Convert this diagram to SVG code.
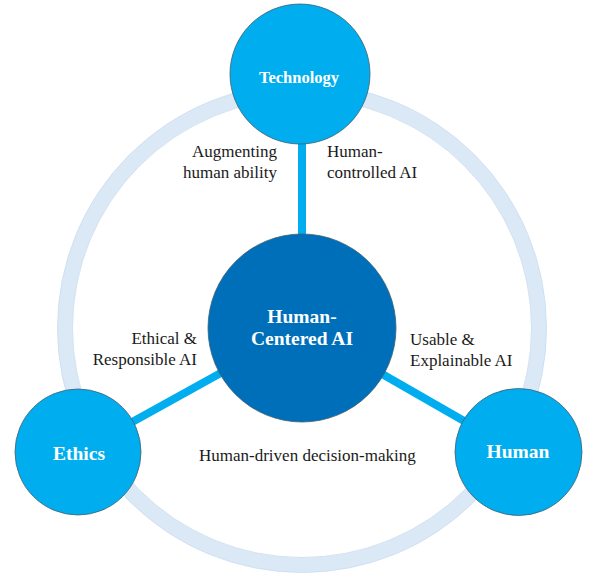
<svg xmlns="http://www.w3.org/2000/svg" width="594" height="588" viewBox="0 0 594 588">
<style>
.ring{fill:none;stroke:#dbe8f5;stroke-width:15}
.ringedge{fill:none;stroke:#c9ddf0;stroke-width:0.8}
.conn{stroke:#00aeef;stroke-width:8;stroke-linecap:butt}
.outer{fill:#00aeef;stroke:#3f5f74;stroke-width:0.8}
.core{fill:#006fba;stroke:#3f5f74;stroke-width:0.8}
.nl{font-family:"Liberation Serif","Times New Roman",serif;font-weight:bold;fill:#ffffff;text-anchor:middle}
.lbl{font-family:"Liberation Serif","Times New Roman",serif;font-size:17px;fill:#1a1a1a}
</style>
<rect width="594" height="588" fill="#ffffff"/>
<g id="ring">
<circle class="ring" cx="302" cy="328" r="237"/>
<circle class="ringedge" cx="302" cy="328" r="244.5"/>
<circle class="ringedge" cx="302" cy="328" r="229.5"/>
</g>
<g id="connectors">
<line class="conn" x1="302" y1="140" x2="302" y2="240"/>
<line class="conn" x1="78" y1="452" x2="302" y2="328"/>
<line class="conn" x1="518" y1="452" x2="302" y2="328"/>
</g>
<g id="technology">
<circle class="outer" cx="300" cy="74" r="70"/>
<text class="nl" x="299" y="83" font-size="16.5">Technology</text>
</g>
<g id="ethics">
<circle class="outer" cx="78" cy="452" r="63"/>
<text class="nl" x="79" y="460" font-size="19.5">Ethics</text>
</g>
<g id="human">
<circle class="outer" cx="518.5" cy="452" r="63.5"/>
<text class="nl" x="518" y="458" font-size="19.5">Human</text>
</g>
<g id="human-centered-ai">
<circle class="core" cx="302" cy="328" r="94"/>
<text class="nl" x="302" y="323" font-size="19.5">Human-</text>
<text class="nl" x="302" y="345" font-size="19.5">Centered AI</text>
</g>
<g id="labels">
<text class="lbl" x="277" y="157" text-anchor="end">Augmenting</text>
<text class="lbl" x="277" y="178" text-anchor="end">human ability</text>
<text class="lbl" x="327" y="157">Human-</text>
<text class="lbl" x="327" y="178">controlled AI</text>
<text class="lbl" x="197" y="344" text-anchor="end">Ethical &amp;</text>
<text class="lbl" x="197" y="365" text-anchor="end">Responsible AI</text>
<text class="lbl" x="410" y="345">Usable &amp;</text>
<text class="lbl" x="410" y="366">Explainable AI</text>
<text class="lbl" x="199" y="461">Human-driven decision-making</text>
</g>
</svg>
